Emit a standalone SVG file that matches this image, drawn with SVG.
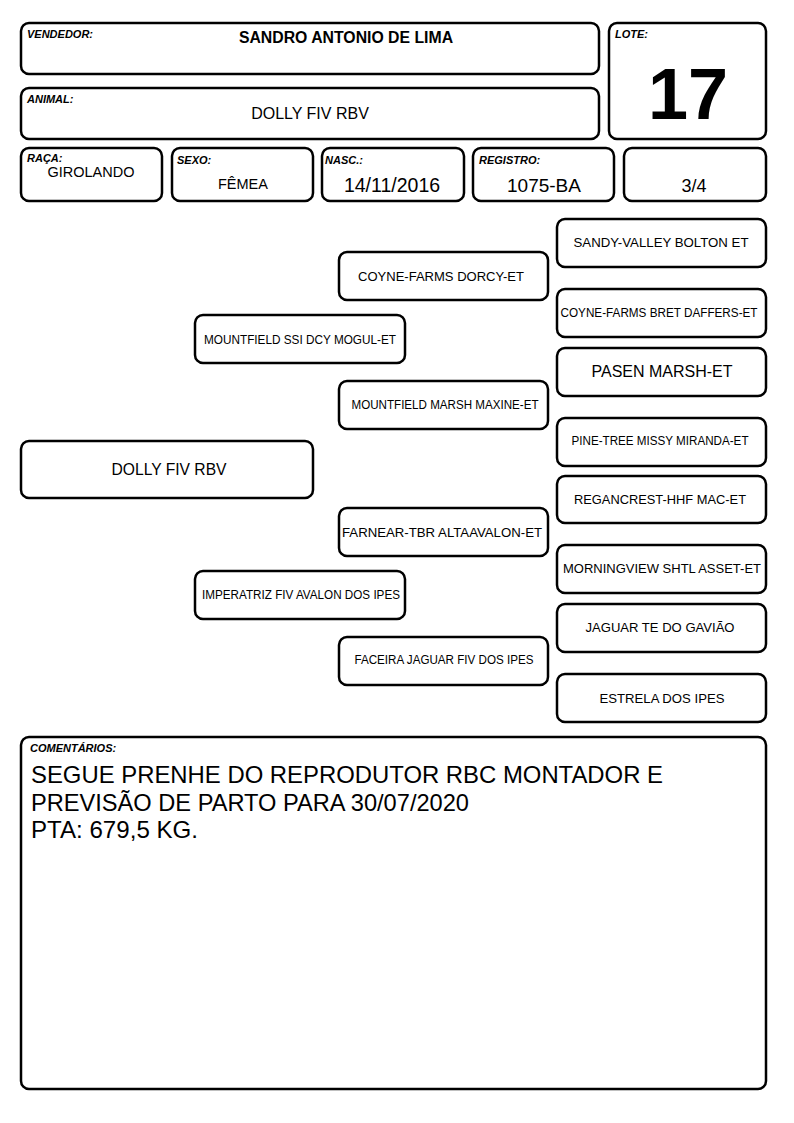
<svg xmlns="http://www.w3.org/2000/svg" width="794" height="1123" viewBox="0 0 794 1123">
<style>
.box{fill:#fff;stroke:#000;stroke-width:2.5}
.lbl{font-family:"Liberation Sans",Arial,sans-serif;font-size:11px;font-weight:bold;font-style:italic;fill:#000}
.val{font-family:"Liberation Sans",Arial,sans-serif;fill:#000;text-anchor:middle}
.ped{font-family:"Liberation Sans",Arial,sans-serif;fill:#000;text-anchor:middle}
.cm{font-family:"Liberation Sans",Arial,sans-serif;font-size:24px;fill:#000}
</style>
<rect width="794" height="1123" fill="#fff"/>
<g id="vendedor">
<rect class="box" x="21" y="23" width="578" height="51" rx="8"/>
<text class="lbl" x="27" y="38">VENDEDOR:</text>
<text class="val" x="346" y="43" font-size="15.8" font-weight="bold">SANDRO ANTONIO DE LIMA</text>
</g>
<g id="animal">
<rect class="box" x="21" y="88" width="578" height="51" rx="8"/>
<text class="lbl" x="27" y="103">ANIMAL:</text>
<text class="val" x="310" y="119" font-size="16">DOLLY FIV RBV</text>
</g>
<g id="lote">
<rect class="box" x="609" y="23" width="157" height="116" rx="8"/>
<text class="lbl" x="615" y="38">LOTE:</text>
<text class="val" x="688" y="119" font-size="72" font-weight="bold">17</text>
</g>
<g id="raca">
<rect class="box" x="21" y="148" width="141" height="53" rx="8"/>
<text class="lbl" x="27" y="162">RAÇA:</text>
<text class="val" x="91" y="177" font-size="14.5">GIROLANDO</text>
</g>
<g id="sexo">
<rect class="box" x="172" y="148" width="141" height="53" rx="8"/>
<text class="lbl" x="177" y="164">SEXO:</text>
<text class="val" x="243" y="189" font-size="14.5">FÊMEA</text>
</g>
<g id="nasc">
<rect class="box" x="322" y="148" width="142" height="53" rx="8"/>
<text class="lbl" x="325" y="164">NASC.:</text>
<text class="val" x="392" y="192" font-size="19.5">14/11/2016</text>
</g>
<g id="registro">
<rect class="box" x="473" y="148" width="141" height="53" rx="8"/>
<text class="lbl" x="479" y="164">REGISTRO:</text>
<text class="val" x="544" y="192" font-size="19">1075-BA</text>
</g>
<g id="grau">
<rect class="box" x="624" y="148" width="142" height="53" rx="8"/>
<text class="val" x="694" y="192" font-size="18">3/4</text>
</g>
<g id="p-sandy"><rect class="box" x="557" y="219" width="209" height="48" rx="8"/><text class="ped" x="661" y="247" font-size="13" textLength="175" lengthAdjust="spacingAndGlyphs">SANDY-VALLEY BOLTON ET</text></g>
<g id="p-dorcy"><rect class="box" x="339" y="252" width="209" height="48" rx="8"/><text class="ped" x="441" y="281" font-size="13" textLength="166" lengthAdjust="spacingAndGlyphs">COYNE-FARMS DORCY-ET</text></g>
<g id="p-bret"><rect class="box" x="557" y="289" width="209" height="48" rx="8"/><text class="ped" x="659" y="317" font-size="12" textLength="197" lengthAdjust="spacingAndGlyphs">COYNE-FARMS BRET DAFFERS-ET</text></g>
<g id="p-mogul"><rect class="box" x="195" y="315" width="210" height="48" rx="8"/><text class="ped" x="300" y="344" font-size="12" textLength="192" lengthAdjust="spacingAndGlyphs">MOUNTFIELD SSI DCY MOGUL-ET</text></g>
<g id="p-pasen"><rect class="box" x="557" y="348" width="209" height="48" rx="8"/><text class="ped" x="662" y="377" font-size="16" textLength="141" lengthAdjust="spacingAndGlyphs">PASEN MARSH-ET</text></g>
<g id="p-maxine"><rect class="box" x="339" y="381" width="209" height="48" rx="8"/><text class="ped" x="445" y="409" font-size="12" textLength="187" lengthAdjust="spacingAndGlyphs">MOUNTFIELD MARSH MAXINE-ET</text></g>
<g id="p-pine"><rect class="box" x="557" y="418" width="209" height="48" rx="8"/><text class="ped" x="660" y="445" font-size="12.5" textLength="177" lengthAdjust="spacingAndGlyphs">PINE-TREE MISSY MIRANDA-ET</text></g>
<g id="p-dolly"><rect class="box" x="21" y="441" width="292" height="57" rx="8"/><text class="ped" x="169" y="475" font-size="16" textLength="115" lengthAdjust="spacingAndGlyphs">DOLLY FIV RBV</text></g>
<g id="p-regancrest"><rect class="box" x="557" y="476" width="209" height="47" rx="8"/><text class="ped" x="660" y="504" font-size="13" textLength="172" lengthAdjust="spacingAndGlyphs">REGANCREST-HHF MAC-ET</text></g>
<g id="p-farnear"><rect class="box" x="339" y="508" width="209" height="48" rx="8"/><text class="ped" x="442" y="537" font-size="13" textLength="200" lengthAdjust="spacingAndGlyphs">FARNEAR-TBR ALTAAVALON-ET</text></g>
<g id="p-morningview"><rect class="box" x="557" y="545" width="209" height="48" rx="8"/><text class="ped" x="662" y="573" font-size="13" textLength="198" lengthAdjust="spacingAndGlyphs">MORNINGVIEW SHTL ASSET-ET</text></g>
<g id="p-imperatriz"><rect class="box" x="195" y="571" width="210" height="48" rx="8"/><text class="ped" x="301" y="599" font-size="12" textLength="198" lengthAdjust="spacingAndGlyphs">IMPERATRIZ FIV AVALON DOS IPES</text></g>
<g id="p-jaguar"><rect class="box" x="557" y="604" width="209" height="48" rx="8"/><text class="ped" x="660" y="632" font-size="13" textLength="149" lengthAdjust="spacingAndGlyphs">JAGUAR TE DO GAVIÃO</text></g>
<g id="p-faceira"><rect class="box" x="339" y="637" width="209" height="48" rx="8"/><text class="ped" x="444" y="664" font-size="12" textLength="179" lengthAdjust="spacingAndGlyphs">FACEIRA JAGUAR FIV DOS IPES</text></g>
<g id="p-estrela"><rect class="box" x="557" y="674" width="209" height="48" rx="8"/><text class="ped" x="662" y="703" font-size="13" textLength="125" lengthAdjust="spacingAndGlyphs">ESTRELA DOS IPES</text></g>
<g id="connectors"></g>
<g id="comentarios">
<rect class="box" x="21" y="737" width="745" height="352" rx="8"/>
<text class="lbl" x="30" y="752">COMENTÁRIOS:</text>
<text class="cm" x="31" y="783" textLength="632" lengthAdjust="spacingAndGlyphs">SEGUE PRENHE DO REPRODUTOR RBC MONTADOR E</text>
<text class="cm" x="31" y="811" textLength="438" lengthAdjust="spacingAndGlyphs">PREVISÃO DE PARTO PARA 30/07/2020</text>
<text class="cm" x="31" y="838" textLength="167" lengthAdjust="spacingAndGlyphs">PTA: 679,5 KG.</text>
</g>
</svg>
